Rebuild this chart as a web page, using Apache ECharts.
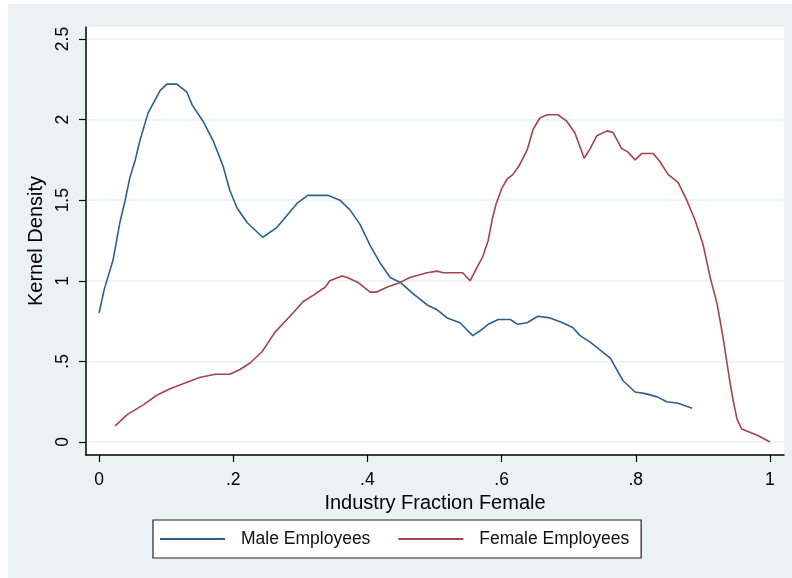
<!DOCTYPE html>
<html>
<head>
<meta charset="utf-8">
<script src="https://cdn.jsdelivr.net/npm/echarts@6/dist/echarts.min.js"></script>
<style>
  html, body { margin: 0; padding: 0; background: #fff; }
  #chart {
    width: 792px;
    height: 578px;
    background: #eaf2f3;
    box-shadow: inset 8px 4px 0 #fff;
  }
</style>
</head>
<body>
<div id="chart"></div>
<script>
// tick positions
var xTicks = [0, 0.2, 0.4, 0.6, 0.8, 1];
var yTicks = [0, 0.5, 1, 1.5, 2, 2.5];

// kernel density, male employees (x, density)
var maleX = [0, 0.008, 0.021, 0.031, 0.039, 0.046, 0.054, 0.061, 0.073, 0.091, 0.101, 0.116, 0.131, 0.139,
  0.155, 0.170, 0.185, 0.195, 0.206, 0.221, 0.244, 0.265, 0.295, 0.311, 0.341, 0.359, 0.374, 0.389,
  0.404, 0.419, 0.434, 0.449, 0.468, 0.489, 0.504, 0.519, 0.538, 0.557, 0.568, 0.580, 0.595, 0.613,
  0.624, 0.638, 0.654, 0.672, 0.691, 0.706, 0.717, 0.732, 0.747, 0.762, 0.781, 0.799, 0.814, 0.832,
  0.846, 0.863, 0.884];
var maleY = [0.80, 0.95, 1.13, 1.36, 1.50, 1.64, 1.75, 1.87, 2.04, 2.18, 2.22, 2.22, 2.17, 2.09,
  1.99, 1.87, 1.71, 1.56, 1.45, 1.36, 1.27, 1.33, 1.48, 1.53, 1.53, 1.50, 1.44, 1.35,
  1.22, 1.11, 1.02, 0.99, 0.92, 0.85, 0.82, 0.77, 0.74, 0.66, 0.69, 0.73, 0.76, 0.76,
  0.73, 0.74, 0.78, 0.77, 0.74, 0.71, 0.66, 0.62, 0.57, 0.52, 0.38, 0.31, 0.30, 0.28,
  0.25, 0.24, 0.21];

// kernel density, female employees (x, density)
var femaleX = [0.024, 0.042, 0.066, 0.086, 0.106, 0.131, 0.150, 0.173, 0.195, 0.210, 0.225, 0.243, 0.262,
  0.289, 0.304, 0.319, 0.337, 0.344, 0.362, 0.370, 0.386, 0.404, 0.414, 0.429, 0.449, 0.463, 0.489,
  0.504, 0.513, 0.523, 0.542, 0.553, 0.563, 0.572, 0.580, 0.586, 0.592, 0.600, 0.608, 0.617, 0.627, 0.638,
  0.647, 0.657, 0.668, 0.684, 0.697, 0.709, 0.717, 0.723, 0.732, 0.742, 0.757, 0.766, 0.779, 0.788,
  0.799, 0.809, 0.826, 0.836, 0.848, 0.863, 0.876, 0.888, 0.900, 0.911, 0.921, 0.930, 0.940, 0.945,
  0.951, 0.958, 0.970, 0.982, 1.0];
var femaleY = [0.10, 0.17, 0.23, 0.29, 0.33, 0.37, 0.40, 0.42, 0.42, 0.45, 0.49, 0.56, 0.68,
  0.80, 0.87, 0.91, 0.96, 1.00, 1.03, 1.02, 0.99, 0.93, 0.93, 0.96, 0.99, 1.02, 1.05,
  1.06, 1.05, 1.05, 1.05, 1.00, 1.08, 1.15, 1.25, 1.38, 1.48, 1.57, 1.63, 1.66, 1.72, 1.81,
  1.94, 2.01, 2.03, 2.03, 1.99, 1.92, 1.83, 1.76, 1.82, 1.90, 1.93, 1.92, 1.82, 1.80,
  1.75, 1.79, 1.79, 1.74, 1.66, 1.61, 1.50, 1.38, 1.23, 1.02, 0.86, 0.65, 0.38, 0.26,
  0.14, 0.08, 0.06, 0.04, 0.00];

function pairs(xs, ys) {
  return xs.map(function (x, i) { return [x, ys[i]]; });
}
function stripZero(v) {
  var s = String(Math.round(v * 10) / 10);
  return s.indexOf("0.") === 0 ? s.slice(1) : s;
}

var font = "Liberation Sans";
var chart = echarts.init(document.getElementById("chart"));
chart.setOption({
  animation: false,
  textStyle: { fontFamily: font, color: "#000" },
  grid: {
    left: 86,
    top: 27,
    right: 8,
    bottom: 123,
    show: true,
    backgroundColor: "#fff",
    borderWidth: 0,
  },
  xAxis: {
    type: "value",
    min: -0.0194,
    max: 1.0209,
    name: "Industry Fraction Female",
    nameLocation: "middle",
    nameGap: 25,
    nameTextStyle: { fontSize: 20, color: "#000", fontFamily: font },
    axisLine: { onZero: false, lineStyle: { color: "#000", width: 1.5 } },
    axisTick: { customValues: xTicks, length: 7, lineStyle: { color: "#000", width: 1.2 } },
    axisLabel: {
      customValues: xTicks,
      margin: 16,
      fontSize: 17.5,
      color: "#000",
      formatter: stripZero,
    },
    splitLine: { show: false },
  },
  yAxis: {
    type: "value",
    min: -0.0806,
    max: 2.5744,
    name: "Kernel Density",
    nameLocation: "middle",
    nameGap: 35,
    nameTextStyle: { fontSize: 20, color: "#000", fontFamily: font },
    axisLine: { onZero: false, lineStyle: { color: "#000", width: 1.5 } },
    axisTick: { customValues: yTicks, length: 7, lineStyle: { color: "#000", width: 1.2 } },
    axisLabel: {
      customValues: yTicks,
      rotate: 90,
      margin: 14,
      fontSize: 17.5,
      color: "#000",
      formatter: stripZero,
    },
    splitLine: { show: true, lineStyle: { color: "#eaf2f3", width: 1.5 } },
  },
  legend: {
    left: 153,
    top: 520,
    backgroundColor: "#fff",
    borderColor: "#222",
    borderWidth: 1.2,
    borderRadius: 0,
    padding: [10, 12, 10, 7],
    icon: "rect",
    itemWidth: 65,
    itemHeight: 2,
    itemGap: 28,
    textStyle: { fontSize: 17.5, color: "#111", padding: [0, 0, 0, 11] },
    data: ["Male Employees", "Female Employees"],
  },
  series: [
    {
      name: "Male Employees",
      type: "line",
      showSymbol: false,
      symbol: "none",
      color: "#2f5f8c",
      lineStyle: { width: 1.6 },
      data: pairs(maleX, maleY),
    },
    {
      name: "Female Employees",
      type: "line",
      showSymbol: false,
      symbol: "none",
      color: "#a4444b",
      lineStyle: { width: 1.6 },
      data: pairs(femaleX, femaleY),
    },
  ],
});
</script>
</body>
</html>
